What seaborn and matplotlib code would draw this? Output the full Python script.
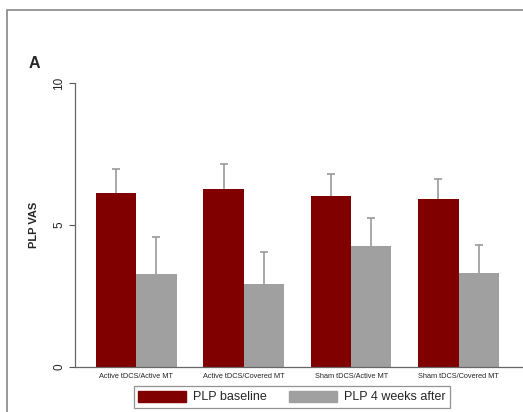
import matplotlib
matplotlib.use("Agg")
import matplotlib.pyplot as plt
import seaborn as sns
import pandas as pd
import numpy as np
from matplotlib.patches import Rectangle

groups = ["Active tDCS/Active MT", "Active tDCS/Covered MT",
          "Sham tDCS/Active MT", "Sham tDCS/Covered MT"]
series = ["PLP baseline", "PLP 4 weeks after"]
baseline = [6.12, 6.28, 6.03, 5.91]
baseline_sd = [0.84, 0.86, 0.78, 0.70]
after = [3.29, 2.94, 4.26, 3.32]
after_sd = [1.28, 1.12, 0.98, 0.97]
yticks = [0, 5, 10]
colors = ["#800000", "#a0a0a0"]

df = pd.DataFrame({
    "group": groups * 2,
    "series": [series[0]] * 4 + [series[1]] * 4,
    "value": baseline + after,
    "sd": baseline_sd + after_sd,
})

sns.set_style("white")
plt.rcParams["font.family"] = ["Liberation Sans", "DejaVu Sans"]

fig = plt.figure(figsize=(5.23, 4.12), dpi=100)
ax = fig.add_axes([75 / 523, 45 / 412, 447 / 523, 284 / 412])

sns.barplot(data=df, x="group", y="value", hue="series", order=groups,
            hue_order=series, palette=colors, width=0.75, errorbar=None,
            saturation=1, ax=ax, legend=False)

# upward-only error bars on each bar, capped at the top
for i, s in enumerate(series):
    sub = df[df["series"] == s].set_index("group").loc[groups]
    bars = ax.containers[i]
    xs = np.array([b.get_x() + b.get_width() / 2 for b in bars])
    hs = np.array([b.get_height() for b in bars])
    tops = hs + sub["sd"].values
    ax.vlines(xs, hs, tops, color="#9a9a9a", linewidth=1.2, zorder=1)
    ax.plot(xs, tops, ls="none", marker="_", markersize=6,
            markeredgewidth=1.2, color="#9a9a9a", zorder=1)
    for b in bars:
        b.set_zorder(2)
        b.set_edgecolor("none")

ax.set_ylim(0, 10)
ax.set_xlim(-0.57, 3.59)
ax.set_yticks(yticks)
ax.set_yticklabels([str(t) for t in yticks], rotation=90, va="center",
                   fontsize=8.5)
ax.tick_params(axis="y", length=4, width=0.8, color="#555555", pad=3,
               left=True)
ax.tick_params(axis="x", length=0, labelsize=5.3, pad=4)
ax.set_xlabel("")
ax.set_ylabel("PLP VAS", fontsize=8, fontweight="bold", labelpad=10)
for side in ["top", "right"]:
    ax.spines[side].set_visible(False)
for side in ["left", "bottom"]:
    ax.spines[side].set_color("#666666")
    ax.spines[side].set_linewidth(0.9)

fig.text(29 / 523, 1 - 63 / 412, "A", fontsize=11.5, fontweight="bold",
         va="center", ha="left")

handles = [Rectangle((0, 0), 1, 1, color=c) for c in colors]
leg = fig.legend(handles, series, ncol=2, loc="center",
                 bbox_to_anchor=(292 / 523, 1 - 397 / 412), fontsize=9,
                 handlelength=3.8, handleheight=1.0, columnspacing=1.8,
                 handletextpad=0.6, fancybox=False, frameon=True,
                 borderpad=0.35)
leg.get_frame().set_edgecolor("#777777")
leg.get_frame().set_linewidth(0.9)

# panel border
fig.patches.append(Rectangle((7 / 523, -0.1), 1.2, 1 - 10 / 412 + 0.1,
                             transform=fig.transFigure, fill=False,
                             edgecolor="#888888", linewidth=1.2))

fig.savefig("out.png", dpi=100)
